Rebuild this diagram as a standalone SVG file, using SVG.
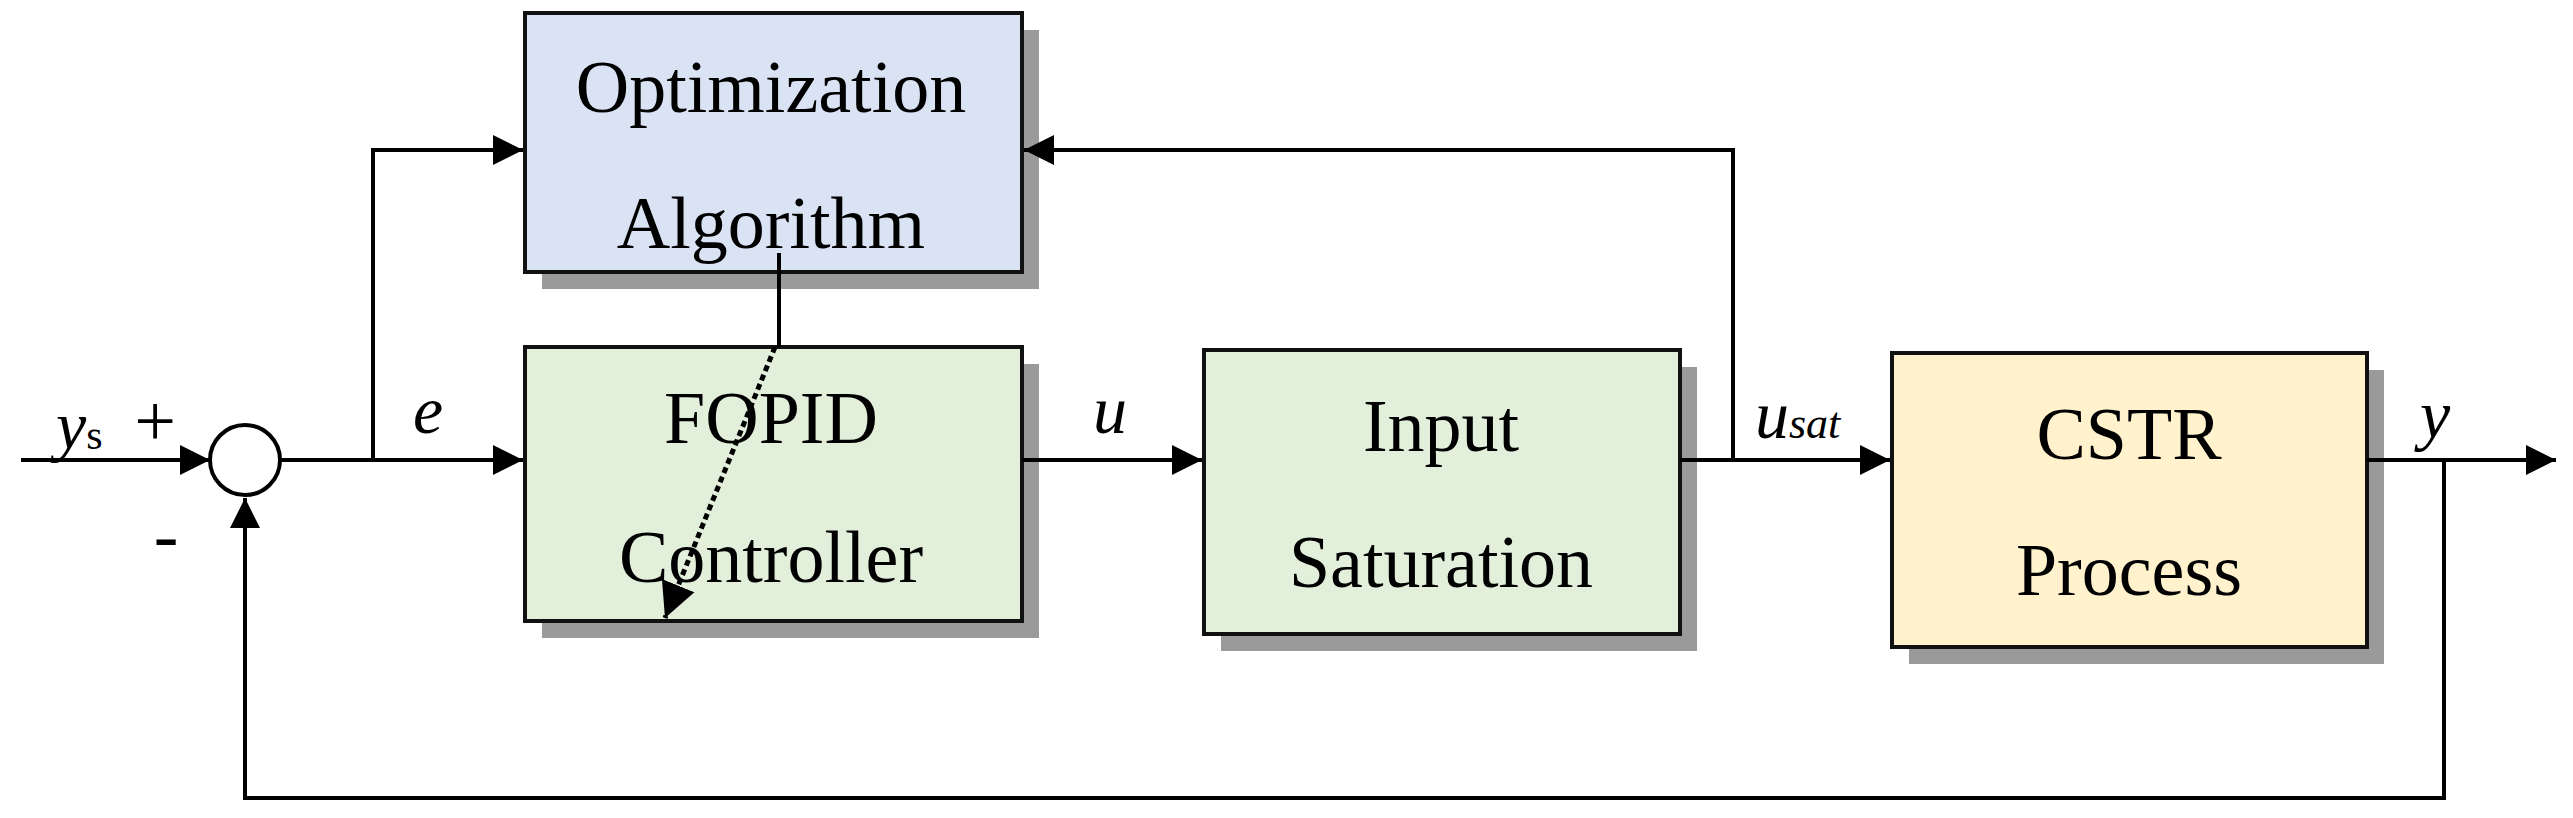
<svg xmlns="http://www.w3.org/2000/svg" width="2573" height="818" viewBox="0 0 2573 818">
<style>
.box{stroke:#111;stroke-width:4}
.sh{fill:#9a9a9a}
.t{font-family:"Liberation Serif",serif;font-size:74px;text-anchor:middle;fill:#000}
.i{font-family:"Liberation Serif",serif;font-style:italic;font-size:68px;fill:#000}
.ln{fill:none;stroke:#000;stroke-width:4}
</style>
<defs>
<marker id="a" viewBox="0 0 10 10" refX="10" refY="5" markerWidth="32" markerHeight="30" markerUnits="userSpaceOnUse" orient="auto">
<path d="M0,0 L10,5 L0,10 z" fill="#000"/></marker>
<marker id="b" viewBox="0 0 10 10" refX="10" refY="5" markerWidth="7" markerHeight="9" orient="auto">
<path d="M0,0 L10,5 L0,10 z" fill="#000"/></marker>
</defs>
<g id="opt"><rect class="sh" x="542" y="30" width="497" height="259"/><rect class="box" x="525" y="13" width="497" height="259" fill="#dae3f3"/>
<text class="t" x="771" y="112">Optimization</text><text class="t" x="771" y="248">Algorithm</text></g>
<g id="fopid"><rect class="sh" x="542" y="364" width="497" height="274"/><rect class="box" x="525" y="347" width="497" height="274" fill="#e2efda"/>
<text class="t" x="771" y="443">FOPID</text><text class="t" x="771" y="582">Controller</text></g>
<g id="sat"><rect class="sh" x="1221" y="367" width="476" height="284"/><rect class="box" x="1204" y="350" width="476" height="284" fill="#e2efda"/>
<text class="t" x="1441" y="451">Input</text><text class="t" x="1441" y="587">Saturation</text></g>
<g id="cstr"><rect class="sh" x="1909" y="370" width="475" height="294"/><rect class="box" x="1892" y="353" width="475" height="294" fill="#fff2cc"/>
<text class="t" x="2129" y="459">CSTR</text><text class="t" x="2129" y="595">Process</text></g>
<g id="sum"><circle cx="245" cy="460" r="35" fill="#fff" stroke="#000" stroke-width="4"/></g>
<g id="connectors">
<line class="ln" x1="21" y1="460" x2="210" y2="460" marker-end="url(#a)"/>
<polyline class="ln" points="280,460 373,460"/>
<line class="ln" x1="373" y1="460" x2="523" y2="460" marker-end="url(#a)"/>
<polyline class="ln" points="373,460 373,150 523,150" marker-end="url(#a)"/>
<line class="ln" x1="1022" y1="460" x2="1202" y2="460" marker-end="url(#a)"/>
<line class="ln" x1="1680" y1="460" x2="1890" y2="460" marker-end="url(#a)"/>
<polyline class="ln" points="1733,460 1733,150 1024,150" marker-end="url(#a)"/>
<line class="ln" x1="2367" y1="460" x2="2556" y2="460" marker-end="url(#a)"/>
<polyline class="ln" points="2444,460 2444,798 245,798 245,498" marker-end="url(#a)"/>
<line class="ln" x1="779" y1="253" x2="779" y2="347"/>
<line x1="775" y1="347" x2="665" y2="618" stroke="#000" stroke-width="5" stroke-dasharray="6,4" marker-end="url(#b)"/>
</g>
<g id="labels">
<text class="i" x="56" y="449">y<tspan font-size="42" font-style="normal">s</tspan></text>
<text class="t" x="155" y="446">+</text>
<text class="t" x="166" y="560">-</text>
<text class="i" x="413" y="433">e</text>
<text class="i" x="1093" y="433">u</text>
<text class="i" x="1755" y="438">u<tspan font-size="44">sat</tspan></text>
<text class="i" x="2420" y="438">y</text>
</g>
</svg>
